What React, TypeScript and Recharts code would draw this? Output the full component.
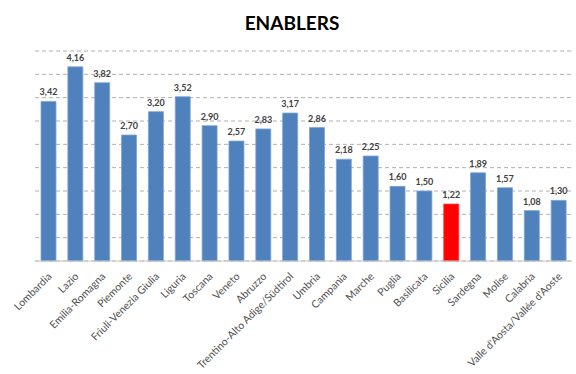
import { BarChart, Bar, XAxis, YAxis, CartesianGrid, LabelList, Cell } from 'recharts'

const regions = [
  'Lombardia', 'Lazio', 'Emilia-Romagna', 'Piemonte', 'Friuli-Venezia Giulia', 'Liguria', 'Toscana',
  'Veneto', 'Abruzzo', 'Trentino-Alto Adige/Südtirol', 'Umbria', 'Campania', 'Marche', 'Puglia',
  'Basilicata', 'Sicilia', 'Sardegna', 'Molise', 'Calabria', "Valle d'Aosta/Vallée d'Aoste",
]
const scores = [3.42, 4.16, 3.82, 2.7, 3.2, 3.52, 2.9, 2.57, 2.83, 3.17, 2.86, 2.18, 2.25, 1.6, 1.5, 1.22, 1.89, 1.57, 1.08, 1.3]
const yTicks = [0, 0.5, 1, 1.5, 2, 2.5, 3, 3.5, 4, 4.5]
const highlight = 'Sicilia'

const data = regions.map((name, i) => ({ name, value: scores[i] }))

const font = 'Lato, "Open Sans", sans-serif'

// rotated category labels, Excel style
const RegionTick = ({ x, y, payload }: any) => (
  <text
    transform={`translate(${x + 4},${y + 8}) rotate(-45)`}
    textAnchor="end"
    fontSize={10.5}
    fontFamily={font}
    fill="#505050"
  >
    {payload.value}
  </text>
)

const fmt = (v: any) => Number(v).toFixed(2).replace('.', ',')

export default function App() {
  return (
    <div style={{ position: 'absolute', left: 0, top: 0, width: 576, height: 374, background: '#fff' }}>
      <div
        style={{
          position: 'absolute',
          top: 11,
          left: 0,
          width: 584,
          textAlign: 'center',
          fontFamily: font,
          fontWeight: 'bold',
          fontSize: 19,
          color: '#000',
        }}
      >
        ENABLERS
      </div>
      <BarChart
        width={576}
        height={374}
        data={data}
        margin={{ top: 51, right: 4, left: 35, bottom: 0 }}
      >
        <CartesianGrid vertical={false} stroke="#b0b0b0" strokeDasharray="4 3" />
        <XAxis
          dataKey="name"
          interval={0}
          height={113}
          tick={<RegionTick />}
          tickLine={false}
          axisLine={{ stroke: '#c8c8c8' }}
        />
        <YAxis hide domain={[0, 4.5]} ticks={yTicks} />
        <Bar dataKey="value" isAnimationActive={false} barSize={15} stroke="#7fa3d3" strokeWidth={0.8}>
          {data.map((d) => (
            <Cell
              key={d.name}
              fill={d.name === highlight ? '#ff0000' : '#4f81bd'}
              stroke={d.name === highlight ? '#ff3030' : '#7fa3d3'}
            />
          ))}
          <LabelList
            dataKey="value"
            position="top"
            offset={6}
            formatter={fmt}
            style={{ fontSize: 9, fontWeight: 'bold', fontFamily: font, fill: '#404040' }}
          />
        </Bar>
      </BarChart>
    </div>
  )
}
